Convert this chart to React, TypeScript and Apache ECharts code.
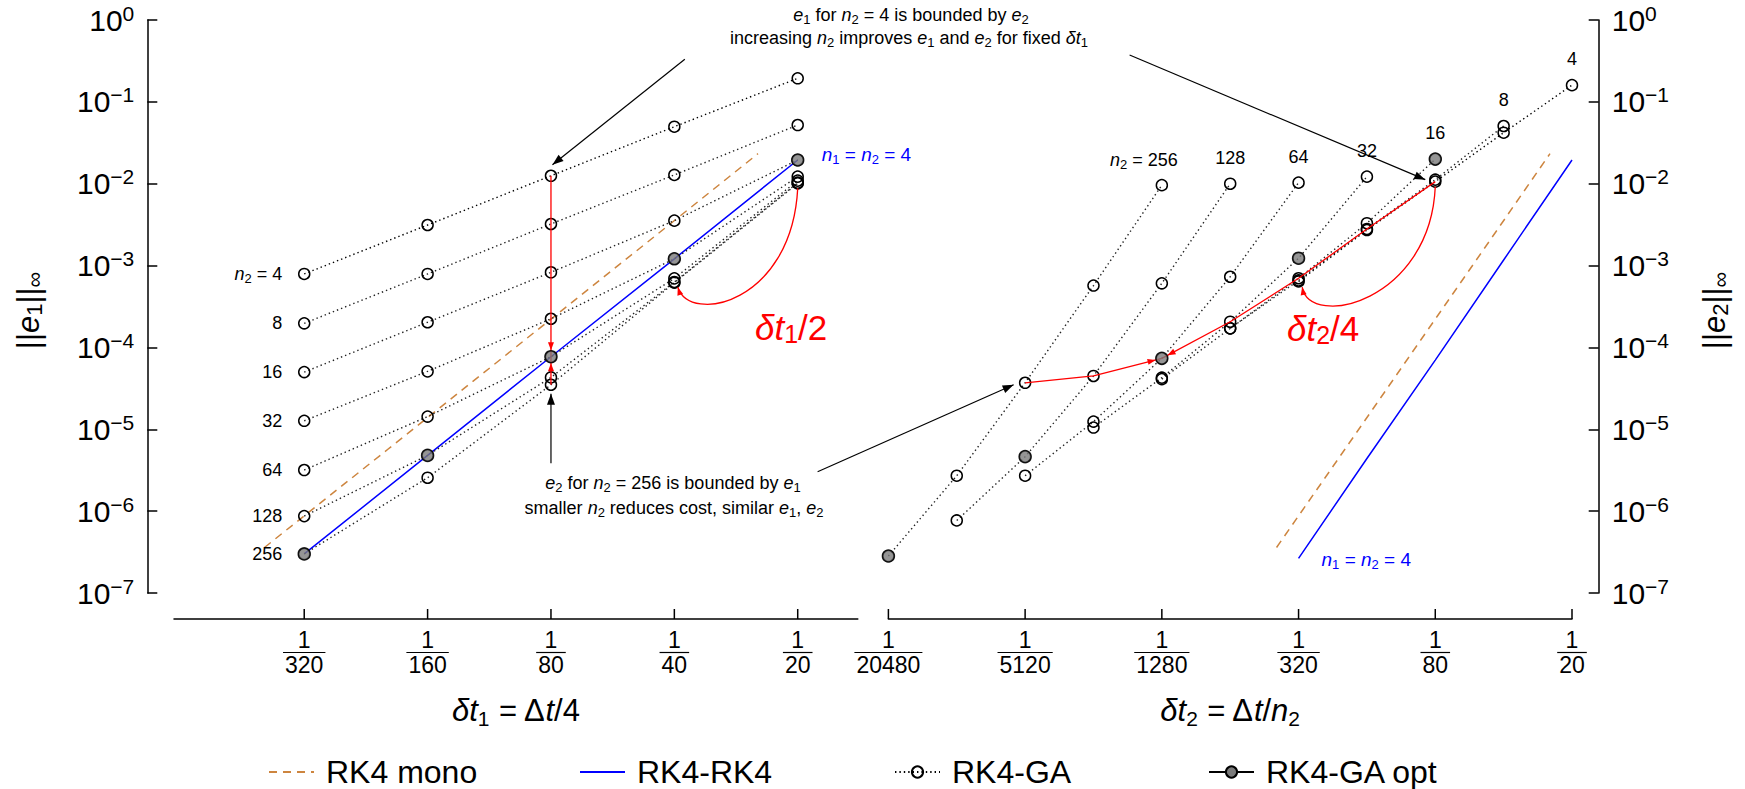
import React, { useEffect, useRef } from "react";
import * as echarts from "echarts";

const FONT = "'Liberation Sans', Arial, Helvetica, sans-serif";

// ---- data ----
const N2_VALUES = [4, 8, 16, 32, 64, 128, 256];
const DT_VALUES = [1 / 80, 1 / 40, 1 / 20, 1 / 10, 1 / 5]; // Δt
const DT1_VALUES = [1 / 320, 1 / 160, 1 / 80, 1 / 40, 1 / 20]; // δt1 = Δt/4

// ||e1|| at DT1_VALUES, one array per n2
const E1_N2_4 = [7.9e-4, 3.13e-3, 1.25e-2, 4.97e-2, 1.94e-1];
const E1_N2_8 = [1.97e-4, 7.9e-4, 3.22e-3, 1.28e-2, 5.21e-2];
const E1_N2_16 = [5.0e-5, 2.03e-4, 8.28e-4, 3.54e-3, 1.95e-2];
const E1_N2_32 = [1.27e-5, 5.1e-5, 2.24e-4, 1.21e-3, 1.22e-2];
const E1_N2_64 = [3.18e-6, 1.43e-5, 7.7e-5, 6.98e-4, 1.09e-2];
const E1_N2_128 = [8.7e-7, 4.8e-6, 4.3e-5, 6.3e-4, 1.03e-2];
const E1_N2_256 = [3.0e-7, 2.56e-6, 3.5e-5, 6.18e-4, 1.01e-2];

// ||e2|| at δt2 = Δt/n2 (Δt from DT_VALUES), one array per n2
const E2_N2_4 = [6.4e-4, 2.72e-3, 1.06e-2, 4.2e-2, 1.6e-1];
const E2_N2_8 = [1.71e-4, 6.6e-4, 2.8e-3, 1.12e-2, 5.07e-2];
const E2_N2_16 = [4.1e-5, 1.71e-4, 7.0e-4, 3.29e-3, 2.0e-2];
const E2_N2_32 = [1.05e-5, 4.27e-5, 2.06e-4, 1.23e-3, 1.22e-2];
const E2_N2_64 = [2.71e-6, 1.24e-5, 7.36e-5, 7.3e-4, 1.03e-2];
const E2_N2_128 = [7.7e-7, 4.63e-6, 4.48e-5, 6.07e-4, 1.0e-2];
const E2_N2_256 = [2.83e-7, 2.71e-6, 3.7e-5, 5.7e-4, 9.6e-3];

const OPT_N2 = [256, 128, 64, 32, 16]; // optimal n2 per Δt
const RK4RK4_E1 = [3.0e-7, 4.8e-6, 7.7e-5, 1.21e-3, 1.95e-2];
const RK4RK4_E2 = [2.65e-7, 4.4e-6, 7.0e-5, 1.17e-3, 1.95e-2];
const MONO_DT = [1 / 400, 1 / 200, 1 / 100, 1 / 50, 1 / 25];
const MONO_E = [3.6e-7, 5.7e-6, 9.1e-5, 1.45e-3, 2.33e-2];

const LEFT_X_TICKS = [320, 160, 80, 40, 20];
const RIGHT_X_TICKS = [20480, 5120, 1280, 320, 80, 20];
const LEFT_X_RANGE = [1 / 665.1, 1 / 14.27];
const RIGHT_X_RANGE = [1 / 20480, 1 / 20];
const Y_RANGE = [1e-7, 1];
const LEGEND_NAMES = ["RK4 mono", "RK4-RK4", "RK4-GA", "RK4-GA opt"];
const FIXED_DT_INDEX = 2; // Δt = 1/20 path

const E1_ROWS = [E1_N2_4, E1_N2_8, E1_N2_16, E1_N2_32, E1_N2_64, E1_N2_128, E1_N2_256];
const E2_ROWS = [E2_N2_4, E2_N2_8, E2_N2_16, E2_N2_32, E2_N2_64, E2_N2_128, E2_N2_256];

// ---- layout ----
const X_AXIS_OFFSET = 26;
const Y_AXIS_OFFSET = 26.7;
const LEGEND_LEFTS = [263, 574, 889, 1203];

const labelRich = (size: number, sub: number, color = "#000") => ({
  i: { fontSize: size, fontFamily: FONT, fontStyle: "italic", color, lineHeight: size + 6 },
  s: { fontSize: sub, fontFamily: FONT, color, lineHeight: sub, verticalAlign: "bottom" },
});

const gRich = (size: number, sub: number, color: string) => ({
  i: { fontSize: size, fontFamily: FONT, fontStyle: "italic", fill: color, lineHeight: size + 4 },
  s: { fontSize: sub, fontFamily: FONT, fill: color, lineHeight: sub, verticalAlign: "bottom" },
});

const gText = (
  x: number,
  y: number,
  text: string,
  size: number,
  align: string,
  color = "#000",
  rotation = 0
) => ({
  type: "text",
  x,
  y,
  rotation,
  silent: true,
  z: 50,
  style: {
    text,
    fontSize: size,
    fontFamily: FONT,
    fill: color,
    align,
    verticalAlign: "middle",
    lineHeight: size + 4,
    rich: gRich(size, Math.round(size * 0.7), color),
  },
});

const gLine = (x1: number, y1: number, x2: number, y2: number, color: string, width: number) => ({
  type: "line",
  silent: true,
  z: 40,
  shape: { x1, y1, x2, y2 },
  style: { stroke: color, lineWidth: width },
});

const arrowHead = (tip: number[], from: number[], len: number, half: number, color: string) => {
  const dx = tip[0] - from[0];
  const dy = tip[1] - from[1];
  const L = Math.hypot(dx, dy) || 1;
  const ux = dx / L;
  const uy = dy / L;
  const bx = tip[0] - ux * len;
  const by = tip[1] - uy * len;
  return {
    type: "polygon",
    silent: true,
    z: 60,
    shape: { points: [tip, [bx - uy * half, by + ux * half], [bx + uy * half, by - ux * half]] },
    style: { fill: color },
  };
};

const gaBase = (k: number) => ({
  type: "line",
  name: "RK4-GA",
  symbol: "circle",
  symbolSize: 11,
  showSymbol: true,
  silent: true,
  emphasis: { disabled: true },
  itemStyle: { color: "rgba(255,255,255,0)", borderColor: "#000", borderWidth: 1.5 },
  lineStyle: { color: k === 0 ? "#000" : "#222", width: 1.4, type: [1.4, 3] },
  z: 3,
});

const optStyle = {
  symbol: "circle",
  symbolSize: 12,
  itemStyle: { color: "#7a7a7a", borderColor: "#000", borderWidth: 1.5 },
};

function buildOption() {
  const kOpt = N2_VALUES.indexOf(OPT_N2[FIXED_DT_INDEX]);
  const j = FIXED_DT_INDEX;

  const leftGA = E1_ROWS.map((row, k) => ({
    ...gaBase(k),
    xAxisIndex: 0,
    yAxisIndex: 0,
    data: row.map((e, c) => [DT1_VALUES[c], e]),
  }));
  const rightGA = E2_ROWS.map((row, k) => ({
    ...gaBase(k),
    xAxisIndex: 1,
    yAxisIndex: 1,
    data: row.map((e, c) => [DT_VALUES[c] / N2_VALUES[k], e]),
  }));
  const optLeft = DT_VALUES.map((dt, c) => [DT1_VALUES[c], E1_ROWS[N2_VALUES.indexOf(OPT_N2[c])][c]]);
  const optRight = DT_VALUES.map((dt, c) => [dt / OPT_N2[c], E2_ROWS[N2_VALUES.indexOf(OPT_N2[c])][c]]);

  const redLeft = E1_ROWS.map((row) => [DT1_VALUES[j], row[j]]);
  const redRight = E2_ROWS.map((row, k) => [DT_VALUES[j] / N2_VALUES[k], row[j]]);
  const redSeries = (gi: number, data: number[][]) => ({
    type: "line",
    xAxisIndex: gi,
    yAxisIndex: gi,
    symbol: "none",
    silent: true,
    emphasis: { disabled: true },
    lineStyle: { color: "#ff0000", width: 1.3 },
    data,
    z: 4,
  });

  const monoSeries = (gi: number) => ({
    type: "line",
    name: "RK4 mono",
    xAxisIndex: gi,
    yAxisIndex: gi,
    symbol: "none",
    showSymbol: false,
    silent: true,
    emphasis: { disabled: true },
    lineStyle: { color: "#cd853f", width: 1.5, type: [8, 6] },
    itemStyle: { color: "#cd853f" },
    data: MONO_DT.map((d, c) => [d, MONO_E[c]]),
    z: 2,
  });
  const rk4Series = (gi: number) => ({
    type: "line",
    name: "RK4-RK4",
    xAxisIndex: gi,
    yAxisIndex: gi,
    symbol: "none",
    showSymbol: false,
    silent: true,
    emphasis: { disabled: true },
    lineStyle: { color: "#0000ff", width: 1.5 },
    itemStyle: { color: "#0000ff" },
    data: DT_VALUES.map((dt, c) => [dt / 4, gi === 0 ? RK4RK4_E1[c] : RK4RK4_E2[c]]),
    z: 2,
  });

  const xAxisBase = (gi: number, range: number[], name: string) => ({
    gridIndex: gi,
    type: "log",
    logBase: 2,
    min: range[0],
    max: range[1],
    position: "bottom",
    offset: X_AXIS_OFFSET,
    axisLine: { show: true, lineStyle: { color: "#000", width: 1.5 } },
    axisTick: { show: false },
    axisLabel: { show: false },
    splitLine: { show: false },
    minorTick: { show: false },
    name,
    nameLocation: "middle",
    nameGap: 73,
    nameTextStyle: {
      fontSize: 31,
      fontFamily: FONT,
      color: "#000",
      lineHeight: 37,
      rich: labelRich(31, 21),
    },
  });

  const yAxisBase = (gi: number, position: string) => ({
    gridIndex: gi,
    type: "log",
    logBase: 10,
    min: Y_RANGE[0],
    max: Y_RANGE[1],
    splitNumber: 7,
    position,
    offset: Y_AXIS_OFFSET,
    axisLine: { show: true, lineStyle: { color: "#000", width: 1.5 } },
    axisTick: { show: true, inside: true, length: 10, lineStyle: { color: "#000", width: 1.5 } },
    splitLine: { show: false },
    minorTick: { show: false },
    axisLabel: {
      show: true,
      margin: 13,
      showMinLabel: true,
      showMaxLabel: true,
      formatter: (v: number) => {
        const e = Math.round(Math.log10(v));
        return "{b|10}{s|" + (e < 0 ? "\u2212" + -e : String(e)) + "}";
      },
      rich: {
        b: { fontSize: 30, fontFamily: FONT, color: "#000", lineHeight: 35 },
        s: { fontSize: 21, fontFamily: FONT, color: "#000", lineHeight: 21, verticalAlign: "top" },
      },
    },
  });

  const legends = LEGEND_NAMES.map((name, i) => ({
    data: [i < 2 ? { name, itemStyle: { opacity: 0 } } : { name }],
    left: LEGEND_LEFTS[i],
    top: 751,
    orient: "horizontal",
    itemWidth: 45,
    itemHeight: 14,
    itemGap: 5,
    selectedMode: false,
    textStyle: { fontSize: 32, fontFamily: FONT, color: "#000", padding: [0, 0, 0, 7] },
  }));

  return {
    animation: false,
    backgroundColor: "#fff",
    textStyle: { fontFamily: FONT, color: "#000" },
    grid: [
      { left: 174, top: 20, width: 683.8, height: 573, containLabel: false, outerBoundsMode: "none" },
      { left: 888.4, top: 20, width: 683.6, height: 573, containLabel: false, outerBoundsMode: "none" },
    ],
    xAxis: [
      xAxisBase(0, LEFT_X_RANGE, "{i|\u03b4t}{s|1} = \u0394{i|t}/4"),
      xAxisBase(1, RIGHT_X_RANGE, "{i|\u03b4t}{s|2} = \u0394{i|t}/{i|n}{s|2}"),
    ],
    yAxis: [yAxisBase(0, "left"), yAxisBase(1, "right")],
    legend: legends,
    series: [
      monoSeries(0),
      rk4Series(0),
      ...leftGA,
      {
        type: "line",
        name: "RK4-GA opt",
        xAxisIndex: 0,
        yAxisIndex: 0,
        data: [],
        ...optStyle,
        symbolSize: 11,
        lineStyle: { color: "#000", width: 1.2 },
        silent: true,
      },
      {
        type: "scatter",
        name: "RK4-GA opt",
        xAxisIndex: 0,
        yAxisIndex: 0,
        ...optStyle,
        silent: true,
        emphasis: { disabled: true },
        data: optLeft,
        z: 6,
      },
      redSeries(0, redLeft.slice(0, kOpt + 1)),
      redSeries(0, redLeft.slice(kOpt)),
      monoSeries(1),
      rk4Series(1),
      ...rightGA,
      {
        type: "scatter",
        name: "RK4-GA opt",
        xAxisIndex: 1,
        yAxisIndex: 1,
        ...optStyle,
        silent: true,
        emphasis: { disabled: true },
        data: optRight,
        z: 6,
      },
      redSeries(1, redRight.slice(0, kOpt + 1)),
      redSeries(1, redRight.slice(kOpt)),
    ],
  };
}

function buildGraphics(chart: any) {
  const P = (gi: number, x: number, y: number): number[] => chart.convertToPixel({ gridIndex: gi }, [x, y]);
  const XP = (ai: number, v: number): number => chart.convertToPixel({ xAxisIndex: ai }, v);
  const yTop = chart.convertToPixel({ yAxisIndex: 0 }, Y_RANGE[1]) as number;
  const yBottom = chart.convertToPixel({ yAxisIndex: 0 }, Y_RANGE[0]) as number;
  const baseY = yBottom + X_AXIS_OFFSET;
  const els: any[] = [];
  const add = (p: number[], dx: number, dy: number) => [p[0] + dx, p[1] + dy];

  // x ticks with fraction labels
  const tickSets: [number, number[]][] = [
    [0, LEFT_X_TICKS],
    [1, RIGHT_X_TICKS],
  ];
  tickSets.forEach(([ai, ticks]) => {
    ticks.forEach((d) => {
      const x = XP(ai, 1 / d);
      els.push(gLine(x, baseY - 10, x, baseY, "#000", 1.5));
      els.push(gText(x, baseY + 21, "1", 23, "center"));
      const w = String(d).length * 12.8 + 4;
      els.push(gLine(x - w / 2, baseY + 33.5, x + w / 2, baseY + 33.5, "#000", 1.2));
      els.push(gText(x, baseY + 46, String(d), 23, "center"));
    });
  });

  // y axis titles (rotated)
  const yMid = (yTop + yBottom) / 2;
  els.push(gText(28, yMid + 4, "||{i|e}{s|1}||{s|\u221e}", 31, "center", "#000", Math.PI / 2));
  els.push(gText(1714, yMid + 4, "||{i|e}{s|2}||{s|\u221e}", 31, "center", "#000", Math.PI / 2));

  // n2 labels, left panel (next to first point)
  E1_ROWS.forEach((row, k) => {
    const p = P(0, DT1_VALUES[0], row[0]);
    const t = k === 0 ? "{i|n}{s|2} = " + N2_VALUES[k] : String(N2_VALUES[k]);
    els.push(gText(p[0] - 22, p[1], t, 18, "right"));
  });
  // n2 labels, right panel (above last point)
  E2_ROWS.forEach((row, k) => {
    const last = row.length - 1;
    const p = P(1, DT_VALUES[last] / N2_VALUES[k], row[last]);
    if (k === N2_VALUES.length - 1) {
      els.push(gText(p[0] + 16, p[1] - 25, "{i|n}{s|2} = " + N2_VALUES[k], 18, "right"));
    } else {
      els.push(gText(p[0], p[1] - 26, String(N2_VALUES[k]), 18, "center"));
    }
  });

  // blue labels
  const bl = P(0, DT1_VALUES[4], RK4RK4_E1[4]);
  els.push(gText(bl[0] + 24, bl[1] - 5, "{i|n}{s|1} = {i|n}{s|2} = 4", 19, "left", "#0000ff"));
  const br = P(1, DT_VALUES[0] / 4, RK4RK4_E2[0]);
  els.push(gText(br[0] + 23, br[1] + 1, "{i|n}{s|1} = {i|n}{s|2} = 4", 19, "left", "#0000ff"));

  // red arrowheads at the optimum for fixed Δt
  const j = FIXED_DT_INDEX;
  const kOpt = N2_VALUES.indexOf(OPT_N2[j]);
  const R = 6.5;
  const redHead = (prev: number[], opt: number[]) => {
    const dx = opt[0] - prev[0];
    const dy = opt[1] - prev[1];
    const L = Math.hypot(dx, dy) || 1;
    const tip = [opt[0] - (dx / L) * R, opt[1] - (dy / L) * R];
    return arrowHead(tip, prev, 8, 3, "#ff0000");
  };
  const lOpt = P(0, DT1_VALUES[j], E1_ROWS[kOpt][j]);
  els.push(redHead(P(0, DT1_VALUES[j], E1_ROWS[kOpt - 1][j]), lOpt));
  els.push(redHead(P(0, DT1_VALUES[j], E1_ROWS[kOpt + 1][j]), lOpt));
  const rOpt = P(1, DT_VALUES[j] / N2_VALUES[kOpt], E2_ROWS[kOpt][j]);
  els.push(redHead(P(1, DT_VALUES[j] / N2_VALUES[kOpt - 1], E2_ROWS[kOpt - 1][j]), rOpt));
  els.push(redHead(P(1, DT_VALUES[j] / N2_VALUES[kOpt + 1], E2_ROWS[kOpt + 1][j]), rOpt));

  // red curved arrows (δt/2 and δt/4)
  const curve = (p0: number[], c1: number[], c2: number[], p3: number[]) => {
    els.push({
      type: "bezierCurve",
      silent: true,
      z: 40,
      shape: { x1: p0[0], y1: p0[1], cpx1: c1[0], cpy1: c1[1], cpx2: c2[0], cpy2: c2[1], x2: p3[0], y2: p3[1] },
      style: { stroke: "#ff0000", lineWidth: 1.3, fill: null },
    });
    els.push(arrowHead(p3, c2, 8, 3, "#ff0000"));
  };
  {
    const a = add(P(0, DT1_VALUES[4], E1_N2_256[4]), 0, 5);
    const b = add(P(0, DT1_VALUES[3], E1_N2_256[3]), 3.5, 4.5);
    curve(a, add(a, -6, 115), add(b, 12, 38), b);
  }
  {
    const a = add(P(1, DT_VALUES[2] / 4, E2_N2_4[2]), 0, 5);
    const b = add(P(1, DT_VALUES[0] / 4, E2_N2_4[0]), 3.6, 5.6);
    curve(a, add(a, -5, 115), add(b, 8, 43), b);
  }
  els.push(gText(755, 327, "{i|\u03b4t}{s|1}/2", 35, "left", "#ff0000"));
  els.push(gText(1287, 328, "{i|\u03b4t}{s|2}/4", 35, "left", "#ff0000"));

  // black annotation arrows
  const blackArrow = (start: number[], tip: number[]) => {
    els.push(gLine(start[0], start[1], tip[0], tip[1], "#000", 1.2));
    els.push(arrowHead(tip, start, 11, 4, "#000"));
  };
  blackArrow([684.8, 59.3], add(P(0, DT1_VALUES[j], E1_N2_4[j]), 1.5, -11));
  blackArrow([1129.6, 55], add(P(1, DT_VALUES[j] / 4, E2_N2_4[j]), -10, -2));
  const bu = add(P(0, DT1_VALUES[j], E1_N2_256[j]), 0, 9);
  blackArrow([bu[0], 463.3], bu);
  blackArrow([817.6, 471.7], add(P(1, DT_VALUES[j] / 256, E2_N2_256[j]), -11.5, 2));

  // annotation texts
  els.push(gText(911, 15, "{i|e}{s|1} for {i|n}{s|2} = 4 is bounded by {i|e}{s|2}", 18, "center"));
  els.push(
    gText(909, 38, "increasing {i|n}{s|2} improves {i|e}{s|1} and {i|e}{s|2} for fixed {i|\u03b4t}{s|1}", 18, "center")
  );
  els.push(gText(673, 483, "{i|e}{s|2} for {i|n}{s|2} = 256 is bounded by {i|e}{s|1}", 18, "center"));
  els.push(gText(674, 508, "smaller {i|n}{s|2} reduces cost, similar {i|e}{s|1}, {i|e}{s|2}", 18, "center"));

  return els;
}

export default function App() {
  const ref = useRef<HTMLDivElement>(null);
  useEffect(() => {
    const el = ref.current;
    if (!el) return;
    const chart = echarts.init(el, null, { renderer: "svg" });
    chart.setOption(buildOption() as any);
    chart.setOption({ graphic: buildGraphics(chart) } as any);
    return () => chart.dispose();
  }, []);
  return (
    <div
      ref={ref}
      style={{ position: "fixed", left: 0, top: 0, width: 1745, height: 789, background: "#fff" }}
    />
  );
}
